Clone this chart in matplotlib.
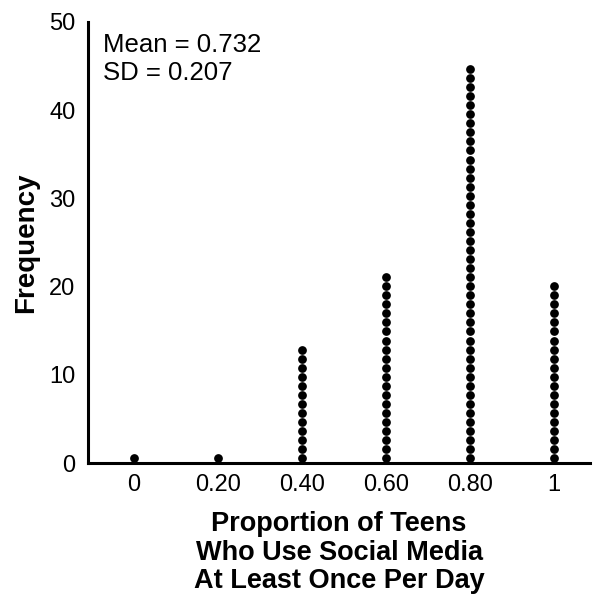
import matplotlib
matplotlib.use("Agg")
import matplotlib.pyplot as plt

# proportion categories and the number of dots (teens groups) in each
proportions = [0.0, 0.2, 0.4, 0.6, 0.8, 1.0]
tick_labels = ["0", "0.20", "0.40", "0.60", "0.80", "1"]
counts = [1, 1, 13, 21, 44, 20]
mean_text = "Mean = 0.732"
sd_text = "SD = 0.207"

plt.rcParams["font.family"] = ["Liberation Sans", "DejaVu Sans"]

fig = plt.figure(figsize=(5.93, 6.02), dpi=100)
ax = fig.add_axes([88 / 593, 139 / 602, 502 / 593, 441 / 602])

# stacked dots, one per case; a dot step slightly over one unit like the original
step = 1.026
xs, ys = [], []
for p, n in zip(proportions, counts):
    for k in range(n):
        xs.append(p)
        ys.append(0.55 + k * step)
ax.plot(xs, ys, linestyle="none", marker="o", color="black",
        markersize=6.3, markeredgewidth=0)

ax.set_xlim(-0.1095, 1.0857)
ax.set_ylim(0, 50)
ax.set_xticks(proportions)
ax.set_xticklabels(tick_labels)
ax.set_yticks([0, 10, 20, 30, 40, 50])
ax.tick_params(length=0, labelsize=17, pad=8)
ax.tick_params(axis="y", pad=9)

for side in ("top", "right"):
    ax.spines[side].set_visible(False)
for side in ("left", "bottom"):
    ax.spines[side].set_linewidth(2.2)

ax.set_ylabel("Frequency", fontsize=20, fontweight="bold", labelpad=7)
ax.set_xlabel("Proportion of Teens\nWho Use Social Media\nAt Least Once Per Day",
              fontsize=19.5, fontweight="bold", labelpad=11, linespacing=1.12)

ax.text(0.03, 0.975, mean_text + "\n" + sd_text, transform=ax.transAxes,
        fontsize=18.5, va="top", ha="left", linespacing=1.2)

fig.savefig("out.png", dpi=100)
